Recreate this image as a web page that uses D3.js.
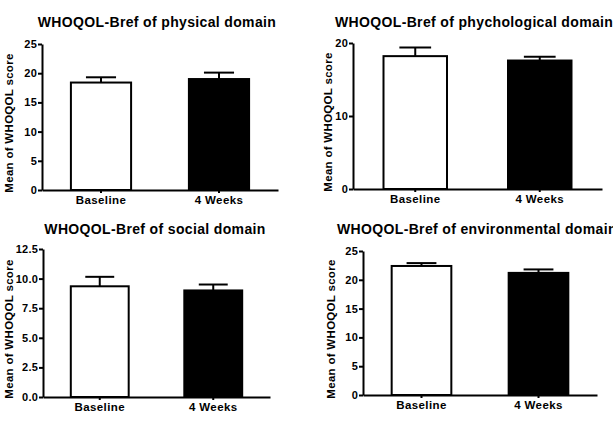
<!DOCTYPE html>
<meta charset="utf-8">
<style>
body { margin: 0; background: #fff; }
text { font-family: 'Liberation Sans', Arial, sans-serif; font-weight: bold; fill: #000; }
.axis path, .axis line { stroke: #000; stroke-width: 2px; }
.axis text { font-size: 11px; letter-spacing: 0.2px; }
</style>
<svg id="chart" width="613" height="422"></svg>
<script src="https://cdn.jsdelivr.net/npm/d3@7"></script>
<script>

var groups = ["Baseline", "4 Weeks"];

var titles = [
  "WHOQOL-Bref of physical domain",
  "WHOQOL-Bref of phychological domain",
  "WHOQOL-Bref of social domain",
  "WHOQOL-Bref of environmental domain"
];

// means and upper error values (mean + SEM)
var physicalMean = [18.4, 19.0];
var physicalErr  = [19.3, 20.1];
var psychMean    = [18.2, 17.6];
var psychErr     = [19.4, 18.1];
var socialMean   = [9.35, 9.0];
var socialErr    = [10.15, 9.5];
var envMean      = [22.4, 21.2];
var envErr       = [22.9, 21.8];

var yMaxes = [25, 20, 12.5, 25];
var yTicks = [
  [0, 5, 10, 15, 20, 25],
  [0, 10, 20],
  [0, 2.5, 5, 7.5, 10, 12.5],
  [0, 5, 10, 15, 20, 25]
];

var means = [physicalMean, psychMean, socialMean, envMean];
var errs = [physicalErr, psychErr, socialErr, envErr];

// panel layout: axis left/right, top/bottom of plot, title position
var panels = [
  {x0: 42,  x1: 278, y0: 44,  y1: 190, tx: 157, ty: 27,  anchor: "middle", lx: 13},
  {x0: 353, x1: 602, y0: 43,  y1: 189, tx: 335, ty: 27,  anchor: "start",  lx: 332},
  {x0: 43,  x1: 270, y0: 249, y1: 397, tx: 155, ty: 234, anchor: "middle", lx: 13},
  {x0: 363, x1: 597, y0: 251, y1: 395, tx: 337, ty: 234, anchor: "start",  lx: 335}
];

var svg = d3.select("#chart");

panels.forEach(function(p, i) {
  var g = svg.append("g");

  var x = d3.scaleBand()
    .domain(groups)
    .range([p.x0, p.x1])
    .paddingInner(0.49)
    .paddingOuter(0.245);

  var y = d3.scaleLinear()
    .domain([0, yMaxes[i]])
    .range([p.y1, p.y0]);

  var data = groups.map(function(gname, j) {
    return {name: gname, mean: means[i][j], err: errs[i][j]};
  });

  // error bars (drawn first, bar covers lower part)
  g.selectAll(".err")
    .data(data)
    .enter().append("line")
      .attr("x1", function(d) { return x(d.name) + x.bandwidth() / 2; })
      .attr("x2", function(d) { return x(d.name) + x.bandwidth() / 2; })
      .attr("y1", function(d) { return y(d.mean); })
      .attr("y2", function(d) { return y(d.err); })
      .attr("stroke", "#000")
      .attr("stroke-width", 2);

  g.selectAll(".cap")
    .data(data)
    .enter().append("line")
      .attr("x1", function(d) { return x(d.name) + x.bandwidth() / 4; })
      .attr("x2", function(d) { return x(d.name) + x.bandwidth() * 3 / 4; })
      .attr("y1", function(d) { return y(d.err); })
      .attr("y2", function(d) { return y(d.err); })
      .attr("stroke", "#000")
      .attr("stroke-width", 2);

  g.selectAll(".bar")
    .data(data)
    .enter().append("rect")
      .attr("x", function(d) { return x(d.name); })
      .attr("width", x.bandwidth())
      .attr("y", function(d) { return y(d.mean); })
      .attr("height", function(d) { return y(0) - y(d.mean); })
      .attr("fill", function(d, j) { return j == 0 ? "#fff" : "#000"; })
      .attr("stroke", "#000")
      .attr("stroke-width", 2);

  var fmt = i == 2 ? d3.format(".1f") : d3.format("d");

  g.append("g")
    .attr("class", "axis")
    .attr("transform", "translate(" + p.x0 + ",0)")
    .call(d3.axisLeft(y).tickValues(yTicks[i]).tickFormat(fmt).tickSize(4).tickSizeOuter(0).tickPadding(1));

  g.append("g")
    .attr("class", "axis")
    .attr("transform", "translate(0," + p.y1 + ")")
    .call(d3.axisBottom(x).tickSize(3).tickSizeOuter(0).tickPadding(3))
    .selectAll("text")
      .style("font-size", "11.5px")
      .style("letter-spacing", "0.4px");

  g.append("text")
    .attr("x", p.tx)
    .attr("y", p.ty)
    .attr("text-anchor", p.anchor)
    .style("font-size", "14px")
    .style("letter-spacing", "0.35px")
    .text(titles[i]);

  g.append("text")
    .attr("transform", "translate(" + p.lx + "," + ((p.y0 + p.y1) / 2 + 6) + ") rotate(-90)")
    .attr("text-anchor", "middle")
    .style("font-size", "11.5px")
    .style("letter-spacing", "0.3px")
    .text("Mean of WHOQOL score");
});

</script>
